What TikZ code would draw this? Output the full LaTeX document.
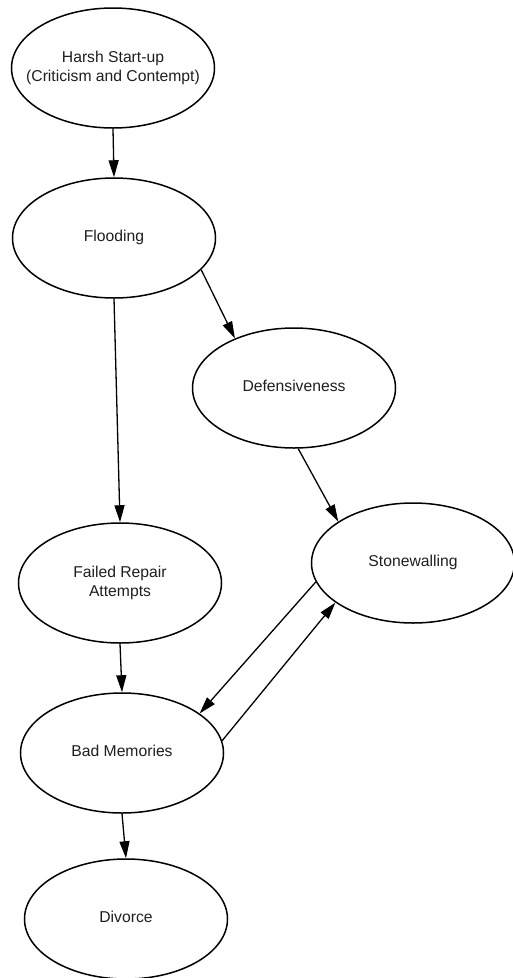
\documentclass[tikz,border=0pt]{standalone}
\usepackage{fontspec}
\setmainfont{Liberation Sans}
\usetikzlibrary{shapes.geometric,arrows.meta}

% text centred in a node without widening the ellipse
\newcommand{\elltext}[1]{\makebox[0pt]{\begin{tabular}{@{}c@{}}#1\end{tabular}}}

\tikzset{
  state/.style={ellipse, draw=black, line width=1.5pt, fill=white,
    minimum width=203pt, minimum height=120pt, inner sep=0pt,
    text=black!88, font=\fontsize{15.7}{19.5}\selectfont},
  flow/.style={draw=black, line width=1.3pt,
    -{Triangle[length=17pt,width=10pt]}}
}

\begin{document}
\begin{tikzpicture}[x=1pt,y=-1pt]
  \useasboundingbox (0,0) rectangle (513,978);
  \fill[white] (0,0) rectangle (513,978);

  \node[state] (harsh) at (113,68)  {\elltext{Harsh Start-up\\(Criticism and Contempt)}};
  \node[state] (flood) at (114,238) {\elltext{Flooding}};
  \node[state] (def)   at (294,388) {\elltext{Defensiveness}};
  \node[state] (stone) at (413,563) {\elltext{Stonewalling}};
  \node[state] (fail)  at (120,583) {\elltext{Failed Repair\\Attempts}};
  \node[state] (bad)   at (122,753) {\elltext{Bad Memories}};
  \node[state] (div)   at (126,919) {\elltext{Divorce}};

  \draw[flow] (harsh.south) -- (flood.north);
  \draw[flow] (flood.340) -- (def.140);
  \draw[flow] (flood.south) -- (fail.north);
  \draw[flow] (def.274) -- (stone.151);
  \draw[flow] (fail.south) -- (bad.north);
  \draw[flow] (stone.191) -- (bad.27);
  \draw[flow] (bad.7) -- (stone.207);
  \draw[flow] (bad.south) -- (div.north);
\end{tikzpicture}
\end{document}
